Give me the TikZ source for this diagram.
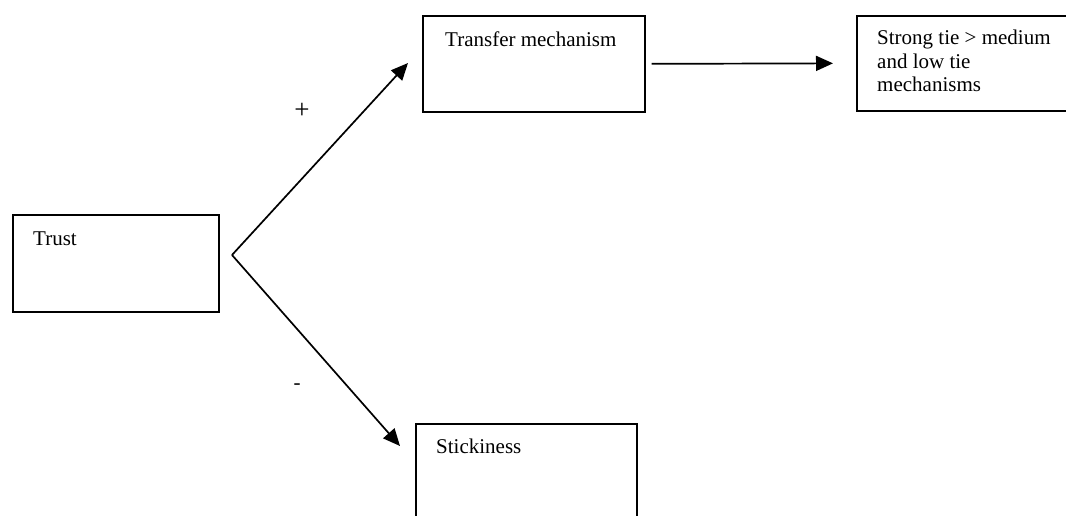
\documentclass[tikz,border=0pt]{standalone}
\usepackage{fontspec}
\setmainfont{Liberation Serif}
\usetikzlibrary{arrows.meta,calc}
\tikzset{
  box/.style={draw=black, line width=1.7pt, rectangle, inner sep=0pt, anchor=north west},
  lbl/.style={anchor=base west, inner sep=0pt, align=left, font=\fontsize{21}{23.5}\selectfont},
  sign/.style={inner sep=0pt, font=\fontsize{21}{23.5}\selectfont},
  arr/.style={line width=1.7pt, -{Triangle[length=17pt,width=15pt]}}
}
\begin{document}
\begin{tikzpicture}[x=1pt,y=-1pt]
\useasboundingbox (0,0) rectangle (1066,516);
\clip (0,0) rectangle (1066,516);
% boxes
\node[box, minimum width=206pt, minimum height=97pt] (trust) at (12,214) {};
\node[box, minimum width=222pt, minimum height=96pt] (transfer) at (422,15) {};
\node[box, minimum width=240pt, minimum height=95pt] (strong) at (856,15) {};
\node[box, minimum width=221pt, minimum height=120pt] (stick) at (415,423) {};
% texts
\node[lbl] (trustT) at ($(trust.north west)+(21,31)$) {Trust};
\node[lbl] (transferT) at ($(transfer.north west)+(23,32)$) {Transfer mechanism};
\node[lbl] (strongT) at ($(strong.north west)+(21,77)$) {Strong tie > medium\\and low tie\\mechanisms};
\node[lbl] (stickT) at ($(stick.north west)+(21,30)$) {Stickiness};
% connectors
\coordinate (v) at (232,255);
\coordinate (tipUp) at (408,63);
\coordinate (tipDown) at (400,446);
\draw[arr] (v) -- (tipUp);
\draw[arr] (v) -- (tipDown);
\draw[arr] ([xshift=6pt]transfer.east) -- ([xshift=-23pt]strong.west);
% signs
\node[sign, font=\fontsize{27}{30}\selectfont] (plus) at (302,111) {+};
\node[sign] (minus) at (297,387) {-};
\end{tikzpicture}
\end{document}
